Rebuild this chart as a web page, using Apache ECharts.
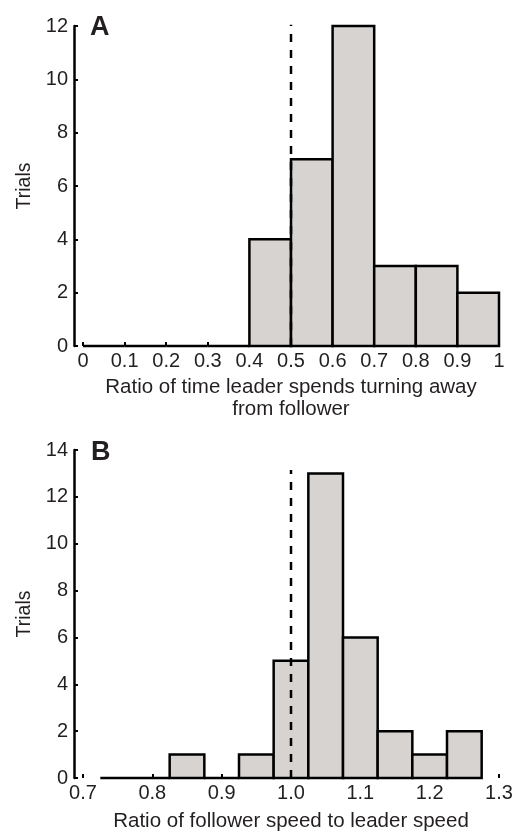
<!DOCTYPE html>
<html>
<head>
<meta charset="utf-8">
<script src="https://cdn.jsdelivr.net/npm/echarts@6/dist/echarts.min.js"></script>
<style>
  html, body { margin: 0; padding: 0; background: #fff; }
  #chart { width: 525px; height: 833px; }
</style>
</head>
<body>
<div id="chart"></div>
<script>
// ---- data ----
var binEdgesA = [0, 0.1, 0.2, 0.3, 0.4, 0.5, 0.6, 0.7, 0.8, 0.9, 1.0];
var countsA = [0, 0, 0, 0, 4, 7, 12, 3, 3, 2];
var refLineA = [[0.5, 0], [0.5, 12.1]];

var binEdgesB = [0.725, 0.775, 0.825, 0.875, 0.925, 0.975, 1.025, 1.075, 1.125, 1.175, 1.225, 1.275];
var countsB = [0, 0, 1, 0, 1, 5, 13, 6, 2, 1, 2];
var refLineB = [[1.0, 0], [1.0, 13.15]];

var fontFam = 'Liberation Sans, Arial, sans-serif';
var ink = '#231f20';
var barFill = '#d6d3d0';

function toBins(edges, counts) {
  var rows = [];
  for (var i = 0; i < counts.length; i++) {
    rows.push([edges[i], edges[i + 1], counts[i]]);
  }
  return rows;
}

function renderBin(params, api) {
  var p0 = api.coord([api.value(0), 0]);
  var p1 = api.coord([api.value(1), api.value(2)]);
  return {
    type: 'rect',
    shape: { x: p0[0], y: p1[1], width: p1[0] - p0[0], height: p0[1] - p1[1] },
    style: { fill: barFill, stroke: '#000', lineWidth: 2.5 }
  };
}

function xAxisOpt(idx, min, max, name, gap, fmt) {
  return {
    type: 'value', gridIndex: idx, min: min, max: max, interval: 0.1,
    name: name, nameLocation: 'middle', nameGap: gap,
    nameTextStyle: { fontFamily: fontFam, fontSize: 20.5, color: ink, lineHeight: 22 },
    axisLine: { show: false },
    axisTick: { show: true, inside: true, length: 4, lineStyle: { color: '#000', width: 2 } },
    axisLabel: { fontFamily: fontFam, fontSize: 20, color: ink, margin: 5, formatter: fmt },
    splitLine: { show: false }
  };
}

function yAxisOpt(idx, max) {
  return {
    type: 'value', gridIndex: idx, min: 0, max: max, interval: 2, offset: 9,
    name: 'Trials', nameLocation: 'middle', nameGap: 37, nameRotate: 90,
    nameTextStyle: { fontFamily: fontFam, fontSize: 19.5, color: ink },
    axisLine: { show: true, onZero: false, lineStyle: { color: '#000', width: 2.5 } },
    axisTick: { show: true, inside: true, length: 4, lineStyle: { color: '#000', width: 2 } },
    axisLabel: { fontFamily: fontFam, fontSize: 20, color: ink, margin: 6 },
    splitLine: { show: false }
  };
}

var chart = echarts.init(document.getElementById('chart'));

var option = {
  animation: false,
  backgroundColor: '#fff',
  title: [
    { text: 'A', left: 85, top: 9, textStyle: { fontFamily: fontFam, fontSize: 27, fontWeight: 'bold', color: ink } },
    { text: 'B', left: 86, top: 434, textStyle: { fontFamily: fontFam, fontSize: 27, fontWeight: 'bold', color: ink } }
  ],
  grid: [
    { left: 83, width: 416, top: 26, height: 320 },
    { left: 83, width: 416, top: 450, height: 330 }
  ],
  xAxis: [
    xAxisOpt(0, 0, 1, 'Ratio of time leader spends turning away\nfrom follower', 30, function (v) { return String(Math.round(v * 10) / 10); }),
    xAxisOpt(1, 0.7, 1.3, 'Ratio of follower speed to leader speed', 32, function (v) { return v.toFixed(1); })
  ],
  yAxis: [yAxisOpt(0, 12), yAxisOpt(1, 14)],
  series: [
    { type: 'custom', xAxisIndex: 0, yAxisIndex: 0, renderItem: renderBin, data: toBins(binEdgesA, countsA), z: 2 },
    { type: 'custom', xAxisIndex: 1, yAxisIndex: 1, renderItem: renderBin, data: toBins(binEdgesB, countsB), z: 2 },
    { type: 'line', xAxisIndex: 0, yAxisIndex: 0, data: refLineA, symbol: 'none', z: 3,
      lineStyle: { color: '#000', width: 2.5, type: [8, 8] } },
    { type: 'line', xAxisIndex: 1, yAxisIndex: 1, data: refLineB, symbol: 'none', z: 3,
      lineStyle: { color: '#000', width: 2.5, type: [8, 8] } }
  ]
};
chart.setOption(option);
</script>
</body>
</html>
